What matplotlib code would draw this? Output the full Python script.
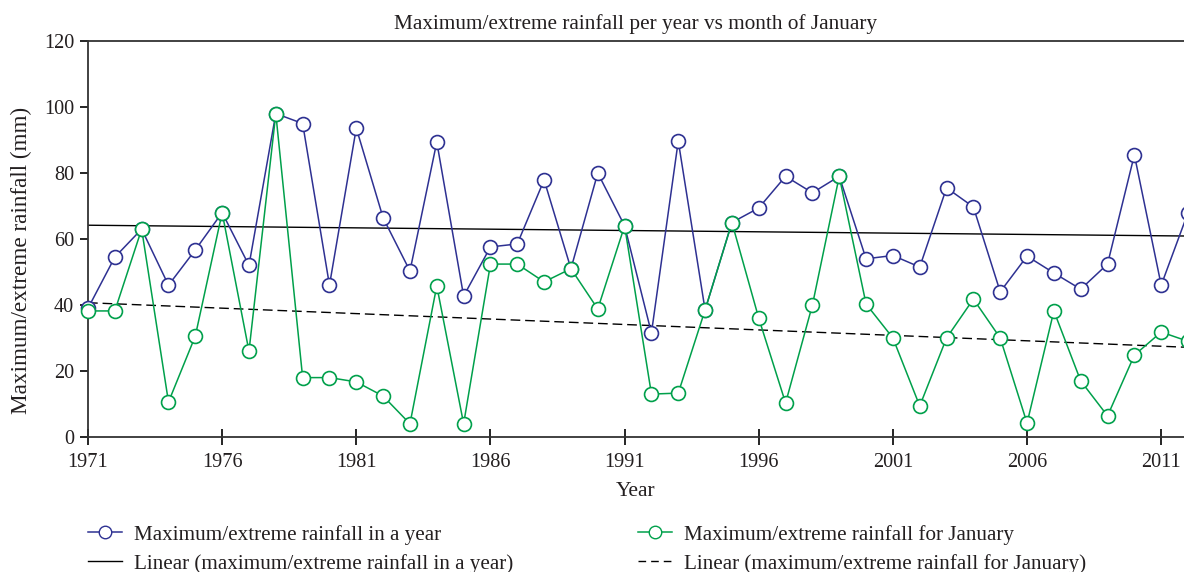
import numpy as np
import matplotlib.pyplot as plt
from matplotlib.lines import Line2D

plt.rcParams['font.family'] = ['Liberation Serif', 'DejaVu Serif']

years = list(range(1971, 2013))
max_year = [39, 54.5, 63, 46, 56.7, 68, 52, 98, 95, 46,
            93.6, 66.4, 50.3, 89.4, 42.7, 57.6, 58.5, 77.9, 51, 80,
            64, 31.5, 89.7, 38.5, 65, 69.4, 79, 74, 79, 54,
            55, 51.5, 75.5, 69.7, 44, 54.8, 49.7, 44.8, 52.4, 85.5,
            46, 68]
max_jan = [38.2, 38.2, 63, 10.6, 30.6, 68, 26, 98, 18, 18,
           16.7, 12.4, 4, 45.8, 4, 52.4, 52.4, 47, 51, 38.8,
           64, 13, 13.3, 38.5, 65, 36, 10.3, 40, 79, 40.3,
           30, 9.4, 30, 41.8, 30, 4.2, 38.2, 17, 6.4, 24.8,
           31.8, 29]

blue = '#2e3192'
green = '#00a04b'
txt = '#231f20'

x = np.array(years)
fit_year = np.polyval(np.polyfit(x, max_year, 1), x)
fit_jan = np.polyval(np.polyfit(x, max_jan, 1), x)

fig = plt.figure(figsize=(11.84, 5.72), dpi=100)
ax = fig.add_axes([88/1184, 1 - 437/572, 1 - 88/1184, 396/572])

ax.plot(x, fit_year, color='black', lw=1.0, zorder=2)
ax.plot(x, fit_jan, color='black', lw=1.0, ls=(0, (7, 3.5)), zorder=2)
ax.plot(x, max_year, color=blue, lw=1.1, marker='o', ms=10, mfc='white',
        mec=blue, mew=1.2, clip_on=False, zorder=3)
ax.plot(x, max_jan, color=green, lw=1.1, marker='o', ms=10, mfc='white',
        mec=green, mew=1.2, clip_on=False, zorder=4)

ax.set_xlim(1971, 1971 + (1184 - 88) / 26.83)
ax.set_ylim(0, 120)
ax.set_xticks(range(1971, 2012, 5))
ax.set_yticks(range(0, 121, 20))
ax.spines['right'].set_visible(False)
for s in ['left', 'bottom', 'top']:
    ax.spines[s].set_linewidth(1.3)
    ax.spines[s].set_color('#333333')
ax.tick_params(axis='y', direction='out', length=6, width=1.2,
               labelsize=14.6, labelcolor=txt, pad=4)
ax.tick_params(axis='x', direction='inout', length=11, width=1.2,
               labelsize=14.6, labelcolor=txt, pad=6)

ax.set_title('Maximum/extreme rainfall per year vs month of January',
             fontsize=15.3, color=txt, pad=9)
ax.set_xlabel('Year', fontsize=15.5, color=txt, labelpad=7)
ax.set_ylabel('Maximum/extreme rainfall (mm)', fontsize=16.7, color=txt)
ax.yaxis.set_label_coords(-0.051, 0.445)

h1 = Line2D([], [], color=blue, lw=1.1, marker='o', ms=9, mfc='white', mec=blue)
h2 = Line2D([], [], color='black', lw=1.0)
h3 = Line2D([], [], color=green, lw=1.1, marker='o', ms=9, mfc='white', mec=green)
h4 = Line2D([], [], color='black', lw=1.0, ls=(0, (5.5, 3.6)))

leg_kw = dict(loc='upper left', frameon=False, fontsize=15.2, handlelength=1.6,
              handletextpad=0.6, labelspacing=0.42, borderaxespad=0,
              labelcolor=txt)
fig.legend([h1, h2], ['Maximum/extreme rainfall in a year',
                      'Linear (maximum/extreme rainfall in a year)'],
           bbox_to_anchor=(79.5/1184, 1 - 516.5/572), **leg_kw)
fig.legend([h3, h4], ['Maximum/extreme rainfall for January',
                      'Linear (maximum/extreme rainfall for January)'],
           bbox_to_anchor=(629.5/1184, 1 - 516.5/572), **leg_kw)

fig.savefig('out.png', dpi=100)
